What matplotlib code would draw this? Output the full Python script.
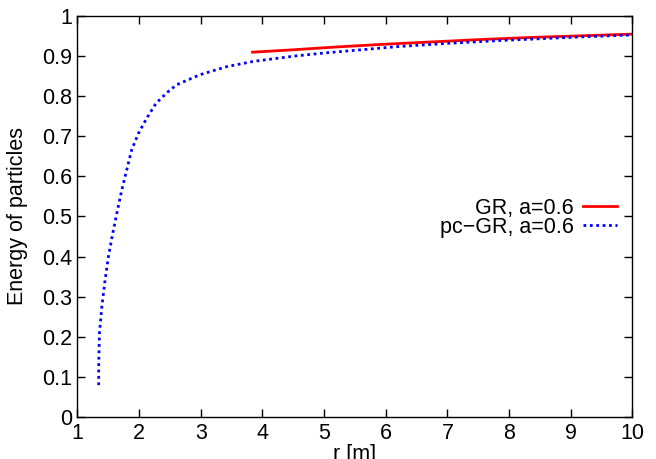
import numpy as np
import matplotlib.pyplot as plt

plt.rcParams['font.family'] = ['Liberation Sans', 'DejaVu Sans']

# GR curve
r_gr = [3.84, 4.5, 5.2, 6.0, 6.8, 7.6, 8.4, 9.2, 10.0]
e_gr = [0.909, 0.915, 0.922, 0.929, 0.935, 0.941, 0.946, 0.950, 0.954]

# pc-GR curve
r_pc = [1.345, 1.345, 1.357, 1.396, 1.449, 1.503, 1.568, 1.639, 1.72, 1.80, 1.88, 1.99,
        2.125, 2.276, 2.45, 2.61, 2.99, 3.42, 3.85, 4.5, 5.0, 5.6, 6.2, 7.0, 7.85, 9.0, 10.0]
e_pc = [0.080, 0.126, 0.209, 0.275, 0.342, 0.400, 0.454, 0.508, 0.566, 0.616, 0.666, 0.707,
        0.745, 0.782, 0.808, 0.828, 0.853, 0.873, 0.886, 0.899, 0.907, 0.915, 0.923, 0.931,
        0.938, 0.946, 0.952]

fs = 15.5

fig = plt.figure(figsize=(6.56, 4.59), dpi=100)
ax = fig.add_axes([0.118, 0.0909, 0.846, 0.875])

ax.plot(r_gr, e_gr, color='#ff0000', lw=2, label='GR, a=0.6')
ax.plot(r_pc, e_pc, color='#0000ff', lw=2, linestyle=(0, (1, 1.3)), label='pc\u2212GR, a=0.6')

ax.set_xlim(1, 10)
ax.set_ylim(0, 1)
ax.set_xticks(range(1, 11))
ax.set_yticks(np.arange(0, 1.01, 0.1))
ax.set_yticklabels(['0', '0.1', '0.2', '0.3', '0.4', '0.5', '0.6', '0.7', '0.8', '0.9', '1'])
ax.tick_params(direction='in', top=True, right=True, labelsize=fs, length=6, width=1, pad=4)
for s in ax.spines.values():
    s.set_linewidth(1)

ax.set_xlabel('r [m]', fontsize=fs, labelpad=0)
ax.set_ylabel('Energy of particles', fontsize=fs, labelpad=10)

ax.legend(loc='center right', bbox_to_anchor=(0.972, 0.497), frameon=False, markerfirst=False,
          fontsize=fs, handlelength=1.55, handletextpad=0.45, labelspacing=-0.08,
          borderaxespad=0, borderpad=0)

fig.savefig('out.png', dpi=100)
